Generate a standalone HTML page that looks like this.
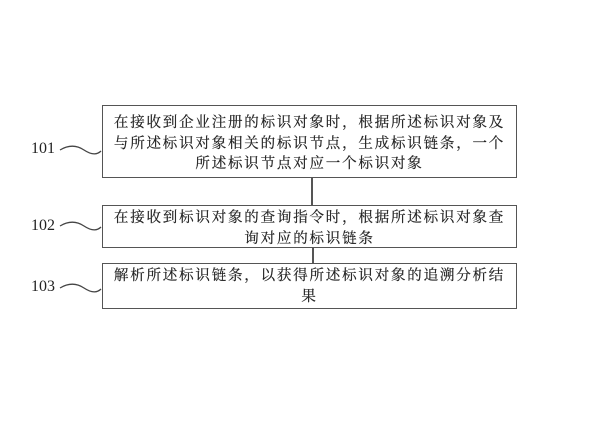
<!DOCTYPE html>
<html><head><meta charset="utf-8"><style>
body{margin:0;width:601px;height:441px;background:#fff;position:relative;overflow:hidden;font-family:"Liberation Serif","Noto Serif CJK SC",serif;color:#222}
.box{position:absolute;left:102px;width:415px;border:1.5px solid #555;box-sizing:border-box;font-size:14.5px;line-height:20.5px;letter-spacing:1.8px;text-align:center;white-space:nowrap;-webkit-text-stroke:0.2px #222}
.box span{display:block}
.lbl{position:absolute;left:31px;font-size:16px;letter-spacing:0}
.ln{position:absolute;left:311px;width:1.5px;background:#555}
</style></head><body>
<div class="box" style="top:105px;height:73px;padding-top:7px"><span>在接收到企业注册的标识对象时，根据所述标识对象及</span><span>与所述标识对象相关的标识节点，生成标识链条，一个</span><span>所述标识节点对应一个标识对象</span></div>
<div class="ln" style="top:178px;height:27px"></div>
<div class="box" style="top:205px;height:43px;padding-top:2px"><span>在接收到标识对象的查询指令时，根据所述标识对象查</span><span>询对应的标识链条</span></div>
<div class="ln" style="top:248px;height:15px;left:312px"></div>
<div class="box" style="top:263px;height:46px;padding-top:2px"><span>解析所述标识链条，以获得所述标识对象的追溯分析结</span><span>果</span></div>
<div class="lbl" style="top:140px">101</div>
<div class="lbl" style="top:217px">102</div>
<div class="lbl" style="top:278px">103</div>
<svg width="601" height="441" style="position:absolute;left:0;top:0" fill="none" stroke="#444" stroke-width="1.3">
<path d="M60 150 C70 144,78 146,84 150 S96 156,101 151"/>
<path d="M60 226 C70 220,78 222,84 226 S96 232,101 227"/>
<path d="M60 288 C70 282,78 284,84 288 S96 294,101 289"/>
</svg>
</body></html>
